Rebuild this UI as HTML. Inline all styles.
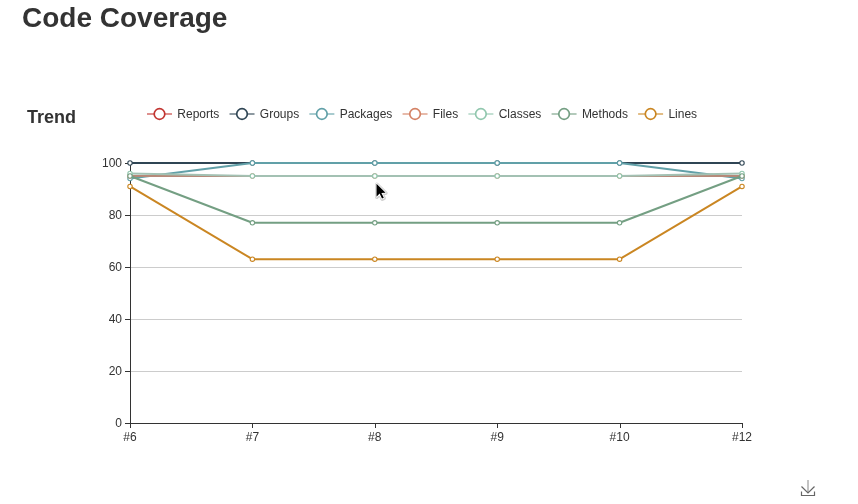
<!DOCTYPE html>
<html><head><meta charset="utf-8"><style>
html,body{margin:0;padding:0;background:#fff;width:858px;height:504px;overflow:hidden}
body{font-family:"Liberation Sans",sans-serif;position:relative}
h1{position:absolute;left:22px;top:0;margin:0;font-size:28px;font-weight:bold;color:#333;line-height:36px}
.trend{position:absolute;left:27px;top:106px;font-size:18px;font-weight:bold;color:#333;line-height:22px}
svg{position:absolute;left:0;top:0}
#w{position:absolute;left:0;top:0;width:858px;height:504px;will-change:transform}
svg text{font-family:"Liberation Sans",sans-serif}
</style></head><body>
<div id="w">
<h1>Code Coverage</h1>
<div class="trend">Trend</div>
<svg width="858" height="504" viewBox="0 0 858 504">
<line x1="130" y1="371.5" x2="742" y2="371.5" stroke="#ccc" stroke-width="1"/>
<line x1="130" y1="319.5" x2="742" y2="319.5" stroke="#ccc" stroke-width="1"/>
<line x1="130" y1="267.5" x2="742" y2="267.5" stroke="#ccc" stroke-width="1"/>
<line x1="130" y1="215.5" x2="742" y2="215.5" stroke="#ccc" stroke-width="1"/>
<line x1="130" y1="163.5" x2="742" y2="163.5" stroke="#ccc" stroke-width="1"/>
<line x1="130.5" y1="163" x2="130.5" y2="423" stroke="#333" stroke-width="1"/>
<line x1="125" y1="423.5" x2="130" y2="423.5" stroke="#333" stroke-width="1"/>
<text x="122" y="427.0" text-anchor="end" font-size="12" fill="#333">0</text>
<line x1="125" y1="371.5" x2="130" y2="371.5" stroke="#333" stroke-width="1"/>
<text x="122" y="375.0" text-anchor="end" font-size="12" fill="#333">20</text>
<line x1="125" y1="319.5" x2="130" y2="319.5" stroke="#333" stroke-width="1"/>
<text x="122" y="323.0" text-anchor="end" font-size="12" fill="#333">40</text>
<line x1="125" y1="267.5" x2="130" y2="267.5" stroke="#333" stroke-width="1"/>
<text x="122" y="271.0" text-anchor="end" font-size="12" fill="#333">60</text>
<line x1="125" y1="215.5" x2="130" y2="215.5" stroke="#333" stroke-width="1"/>
<text x="122" y="219.0" text-anchor="end" font-size="12" fill="#333">80</text>
<line x1="125" y1="163.5" x2="130" y2="163.5" stroke="#333" stroke-width="1"/>
<text x="122" y="167.0" text-anchor="end" font-size="12" fill="#333">100</text>
<line x1="130" y1="423.5" x2="742" y2="423.5" stroke="#333" stroke-width="1"/>
<line x1="130.5" y1="423" x2="130.5" y2="428" stroke="#333" stroke-width="1"/>
<text x="130" y="441" text-anchor="middle" font-size="12" fill="#333">#6</text>
<line x1="252.5" y1="423" x2="252.5" y2="428" stroke="#333" stroke-width="1"/>
<text x="252.4" y="441" text-anchor="middle" font-size="12" fill="#333">#7</text>
<line x1="375.5" y1="423" x2="375.5" y2="428" stroke="#333" stroke-width="1"/>
<text x="374.8" y="441" text-anchor="middle" font-size="12" fill="#333">#8</text>
<line x1="497.5" y1="423" x2="497.5" y2="428" stroke="#333" stroke-width="1"/>
<text x="497.2" y="441" text-anchor="middle" font-size="12" fill="#333">#9</text>
<line x1="620.5" y1="423" x2="620.5" y2="428" stroke="#333" stroke-width="1"/>
<text x="619.6" y="441" text-anchor="middle" font-size="12" fill="#333">#10</text>
<line x1="742.5" y1="423" x2="742.5" y2="428" stroke="#333" stroke-width="1"/>
<text x="742" y="441" text-anchor="middle" font-size="12" fill="#333">#12</text>
<polyline points="130,163.0 252.4,163.0 374.8,163.0 497.2,163.0 619.6,163.0 742,163.0" fill="none" stroke="#2f4554" stroke-width="2" stroke-linejoin="bevel"/>
<circle cx="130" cy="163.0" r="2.2" fill="#fff" stroke="#2f4554" stroke-width="1.1"/>
<circle cx="252.4" cy="163.0" r="2.2" fill="#fff" stroke="#2f4554" stroke-width="1.1"/>
<circle cx="374.8" cy="163.0" r="2.2" fill="#fff" stroke="#2f4554" stroke-width="1.1"/>
<circle cx="497.2" cy="163.0" r="2.2" fill="#fff" stroke="#2f4554" stroke-width="1.1"/>
<circle cx="619.6" cy="163.0" r="2.2" fill="#fff" stroke="#2f4554" stroke-width="1.1"/>
<circle cx="742" cy="163.0" r="2.2" fill="#fff" stroke="#2f4554" stroke-width="1.1"/>
<polyline points="130,178.6 252.4,163.0 374.8,163.0 497.2,163.0 619.6,163.0 742,178.6" fill="none" stroke="#61a0a8" stroke-width="2" stroke-linejoin="bevel"/>
<circle cx="130" cy="178.6" r="2.2" fill="#fff" stroke="#61a0a8" stroke-width="1.1"/>
<circle cx="252.4" cy="163.0" r="2.2" fill="#fff" stroke="#61a0a8" stroke-width="1.1"/>
<circle cx="374.8" cy="163.0" r="2.2" fill="#fff" stroke="#61a0a8" stroke-width="1.1"/>
<circle cx="497.2" cy="163.0" r="2.2" fill="#fff" stroke="#61a0a8" stroke-width="1.1"/>
<circle cx="619.6" cy="163.0" r="2.2" fill="#fff" stroke="#61a0a8" stroke-width="1.1"/>
<circle cx="742" cy="178.6" r="2.2" fill="#fff" stroke="#61a0a8" stroke-width="1.1"/>
<polyline points="130,176.0 252.4,176.0 374.8,176.0 497.2,176.0 619.6,176.0 742,176.0" fill="none" stroke="#d48265" stroke-width="2" stroke-linejoin="bevel" style="filter:saturate(0.55)"/>
<circle cx="130" cy="176.0" r="2.2" fill="#fff" stroke="#d48265" stroke-width="1.1"/>
<circle cx="252.4" cy="176.0" r="2.2" fill="#fff" stroke="#d48265" stroke-width="1.1"/>
<circle cx="374.8" cy="176.0" r="2.2" fill="#fff" stroke="#d48265" stroke-width="1.1"/>
<circle cx="497.2" cy="176.0" r="2.2" fill="#fff" stroke="#d48265" stroke-width="1.1"/>
<circle cx="619.6" cy="176.0" r="2.2" fill="#fff" stroke="#d48265" stroke-width="1.1"/>
<circle cx="742" cy="176.0" r="2.2" fill="#fff" stroke="#d48265" stroke-width="1.1"/>
<polyline points="130,173.39999999999998 252.4,176.0 374.8,176.0 497.2,176.0 619.6,176.0 742,173.39999999999998" fill="none" stroke="#91c7ae" stroke-width="2" stroke-linejoin="bevel" style="filter:saturate(0.55)"/>
<circle cx="130" cy="173.39999999999998" r="2.2" fill="#fff" stroke="#91c7ae" stroke-width="1.1"/>
<circle cx="252.4" cy="176.0" r="2.2" fill="#fff" stroke="#91c7ae" stroke-width="1.1"/>
<circle cx="374.8" cy="176.0" r="2.2" fill="#fff" stroke="#91c7ae" stroke-width="1.1"/>
<circle cx="497.2" cy="176.0" r="2.2" fill="#fff" stroke="#91c7ae" stroke-width="1.1"/>
<circle cx="619.6" cy="176.0" r="2.2" fill="#fff" stroke="#91c7ae" stroke-width="1.1"/>
<circle cx="742" cy="173.39999999999998" r="2.2" fill="#fff" stroke="#91c7ae" stroke-width="1.1"/>
<polyline points="130,176.0 252.4,222.79999999999998 374.8,222.79999999999998 497.2,222.79999999999998 619.6,222.79999999999998 742,176.0" fill="none" stroke="#749f83" stroke-width="2" stroke-linejoin="bevel"/>
<circle cx="130" cy="176.0" r="2.2" fill="#fff" stroke="#749f83" stroke-width="1.1"/>
<circle cx="252.4" cy="222.79999999999998" r="2.2" fill="#fff" stroke="#749f83" stroke-width="1.1"/>
<circle cx="374.8" cy="222.79999999999998" r="2.2" fill="#fff" stroke="#749f83" stroke-width="1.1"/>
<circle cx="497.2" cy="222.79999999999998" r="2.2" fill="#fff" stroke="#749f83" stroke-width="1.1"/>
<circle cx="619.6" cy="222.79999999999998" r="2.2" fill="#fff" stroke="#749f83" stroke-width="1.1"/>
<circle cx="742" cy="176.0" r="2.2" fill="#fff" stroke="#749f83" stroke-width="1.1"/>
<polyline points="130,186.4 252.4,259.2 374.8,259.2 497.2,259.2 619.6,259.2 742,186.4" fill="none" stroke="#ca8622" stroke-width="2" stroke-linejoin="bevel"/>
<circle cx="130" cy="186.4" r="2.2" fill="#fff" stroke="#ca8622" stroke-width="1.1"/>
<circle cx="252.4" cy="259.2" r="2.2" fill="#fff" stroke="#ca8622" stroke-width="1.1"/>
<circle cx="374.8" cy="259.2" r="2.2" fill="#fff" stroke="#ca8622" stroke-width="1.1"/>
<circle cx="497.2" cy="259.2" r="2.2" fill="#fff" stroke="#ca8622" stroke-width="1.1"/>
<circle cx="619.6" cy="259.2" r="2.2" fill="#fff" stroke="#ca8622" stroke-width="1.1"/>
<circle cx="742" cy="186.4" r="2.2" fill="#fff" stroke="#ca8622" stroke-width="1.1"/>
<line x1="147" y1="114" x2="172" y2="114" stroke="#c23531" stroke-width="2" stroke-opacity="0.55"/>
<circle cx="159.5" cy="114" r="5.3" fill="#fff" stroke="#c23531" stroke-width="1.7"/>
<text x="177.3" y="118" font-size="12" fill="#333">Reports</text>
<line x1="229.515625" y1="114" x2="254.515625" y2="114" stroke="#2f4554" stroke-width="2" stroke-opacity="0.55"/>
<circle cx="242.015625" cy="114" r="5.3" fill="#fff" stroke="#2f4554" stroke-width="1.7"/>
<text x="259.815625" y="118" font-size="12" fill="#333">Groups</text>
<line x1="309.359375" y1="114" x2="334.359375" y2="114" stroke="#61a0a8" stroke-width="2" stroke-opacity="0.55"/>
<circle cx="321.859375" cy="114" r="5.3" fill="#fff" stroke="#61a0a8" stroke-width="1.7"/>
<text x="339.659375" y="118" font-size="12" fill="#333">Packages</text>
<line x1="402.546875" y1="114" x2="427.546875" y2="114" stroke="#d48265" stroke-width="2" stroke-opacity="0.55"/>
<circle cx="415.046875" cy="114" r="5.3" fill="#fff" stroke="#d48265" stroke-width="1.7"/>
<text x="432.846875" y="118" font-size="12" fill="#333">Files</text>
<line x1="468.390625" y1="114" x2="493.390625" y2="114" stroke="#91c7ae" stroke-width="2" stroke-opacity="0.55"/>
<circle cx="480.890625" cy="114" r="5.3" fill="#fff" stroke="#91c7ae" stroke-width="1.7"/>
<text x="498.690625" y="118" font-size="12" fill="#333">Classes</text>
<line x1="551.578125" y1="114" x2="576.578125" y2="114" stroke="#749f83" stroke-width="2" stroke-opacity="0.55"/>
<circle cx="564.078125" cy="114" r="5.3" fill="#fff" stroke="#749f83" stroke-width="1.7"/>
<text x="581.878125" y="118" font-size="12" fill="#333">Methods</text>
<line x1="638.09375" y1="114" x2="663.09375" y2="114" stroke="#ca8622" stroke-width="2" stroke-opacity="0.55"/>
<circle cx="650.59375" cy="114" r="5.3" fill="#fff" stroke="#ca8622" stroke-width="1.7"/>
<text x="668.39375" y="118" font-size="12" fill="#333">Lines</text>
<path d="M376.5,183.8 L376.5,196.8 L379.6,193.6 L382,198.6 L383.8,197.8 L381.4,192.9 L385.6,192.7 Z" fill="none" stroke="rgba(0,0,0,0.18)" stroke-width="3.6" stroke-linejoin="round" transform="translate(0.3,0.5)"/>
<path d="M376.5,183.8 L376.5,196.8 L379.6,193.6 L382,198.6 L383.8,197.8 L381.4,192.9 L385.6,192.7 Z" fill="#000" stroke="#fff" stroke-width="1.6" stroke-linejoin="round" paint-order="stroke"/>
<path d="M808,480 V492" fill="none" stroke="#888" stroke-width="1"/>
<path d="M801.5,486.5 L808,493 L814.5,486.5 M801.5,491.5 V495.5 H814.5 V491.5" fill="none" stroke="#666" stroke-width="1.2"/>
</svg>
</div>
</body></html>
